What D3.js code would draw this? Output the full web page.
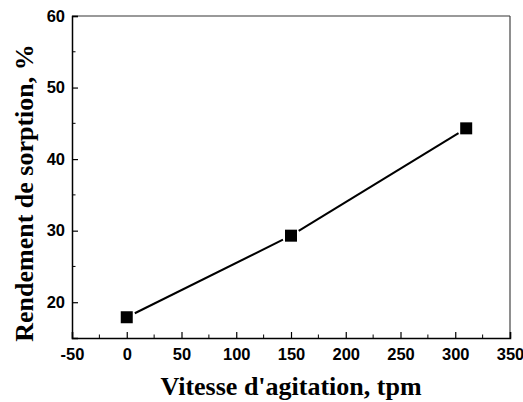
<!DOCTYPE html>
<html>
<head>
<meta charset="utf-8">
<script src="https://cdn.jsdelivr.net/npm/d3@7.9.0/dist/d3.min.js"></script>
<style>
  body { margin: 0; background: #fff; }
  .tick text { font-family: 'Liberation Sans', Arial, sans-serif; font-weight: bold; font-size: 16.5px; fill: #000; }
  .title { font-family: 'Liberation Serif', 'Times New Roman', serif; font-weight: bold; font-size: 26px; fill: #000; }
</style>
</head>
<body>
<div id="chart"></div>
<script>
// data
const speeds = [0, 150, 310];            // tpm
const yields = [17.9, 29.3, 44.3];       // %
const xTicks = [-50, 0, 50, 100, 150, 200, 250, 300, 350];
const yTicks = [20, 30, 40, 50, 60];

const width = 523;
const height = 402;
const margin = { top: 16, right: 13, bottom: 64, left: 72 };

const svg = d3.select('#chart')
  .append('svg')
  .attr('width', width)
  .attr('height', height);

const x = d3.scaleLinear().domain([-50, 350]).range([margin.left, width - margin.right]);
const y = d3.scaleLinear().domain([15, 60]).range([height - margin.bottom, margin.top]);

const points = speeds.map((s, i) => ({ x: s, y: yields[i] }));

// frame: top and right edges are greyish in the original
svg.append('line')
  .attr('x1', x(-50)).attr('x2', x(350))
  .attr('y1', y(60)).attr('y2', y(60))
  .attr('stroke', '#777').attr('stroke-width', 1.5);
svg.append('line')
  .attr('x1', x(350)).attr('x2', x(350))
  .attr('y1', y(60)).attr('y2', y(15))
  .attr('stroke', '#444').attr('stroke-width', 1.2);

// minor ticks (inward), no labels
const xMinor = d3.range(-25, 350, 50);
const yMinor = [25, 35, 45, 55];

const xAxis = svg.append('g')
  .attr('transform', `translate(0, ${y(15)})`)
  .call(d3.axisBottom(x).tickValues(xTicks).tickSize(-6).tickPadding(10).tickFormat(d => String(d)));
xAxis.append('g').selectAll('line')
  .data(xMinor)
  .join('line')
  .attr('x1', d => x(d)).attr('x2', d => x(d))
  .attr('y1', 0).attr('y2', -3.5)
  .attr('stroke', '#000');

const yAxis = svg.append('g')
  .attr('transform', `translate(${x(-50)}, 0)`)
  .call(d3.axisLeft(y).tickValues(yTicks).tickSize(-6).tickPadding(7).tickFormat(d => String(d)));
yAxis.append('g').selectAll('line')
  .data(yMinor)
  .join('line')
  .attr('x1', 0).attr('x2', 3.5)
  .attr('y1', d => y(d)).attr('y2', d => y(d))
  .attr('stroke', '#000');

svg.selectAll('.domain').attr('stroke', '#000').attr('stroke-width', 1.5);
svg.selectAll('.tick line').attr('stroke', '#000').attr('stroke-width', 1.2);

// line segments, slightly short of the markers
const gap = 9;
const segs = d3.pairs(points).map(([a, b]) => {
  const x1 = x(a.x), y1 = y(a.y), x2 = x(b.x), y2 = y(b.y);
  const len = Math.hypot(x2 - x1, y2 - y1);
  const ux = (x2 - x1) / len, uy = (y2 - y1) / len;
  return { x1: x1 + ux * gap, y1: y1 + uy * gap, x2: x2 - ux * gap, y2: y2 - uy * gap };
});

svg.append('g')
  .selectAll('line')
  .data(segs)
  .join('line')
  .attr('x1', d => d.x1).attr('y1', d => d.y1)
  .attr('x2', d => d.x2).attr('y2', d => d.y2)
  .attr('stroke', '#000')
  .attr('stroke-width', 2);

const size = 12;
svg.append('g')
  .selectAll('rect')
  .data(points)
  .join('rect')
  .attr('x', d => x(d.x) - size / 2)
  .attr('y', d => y(d.y) - size / 2)
  .attr('width', size)
  .attr('height', size)
  .attr('fill', '#000');

// axis titles
svg.append('text')
  .attr('class', 'title')
  .attr('x', (x(-50) + x(350)) / 2)
  .attr('y', 395)
  .attr('text-anchor', 'middle')
  .text("Vitesse d'agitation, tpm");

svg.append('text')
  .attr('class', 'title')
  .attr('transform', `translate(33, 193) rotate(-90)`)
  .attr('text-anchor', 'middle')
  .text('Rendement de sorption, %');
</script>
</body>
</html>
